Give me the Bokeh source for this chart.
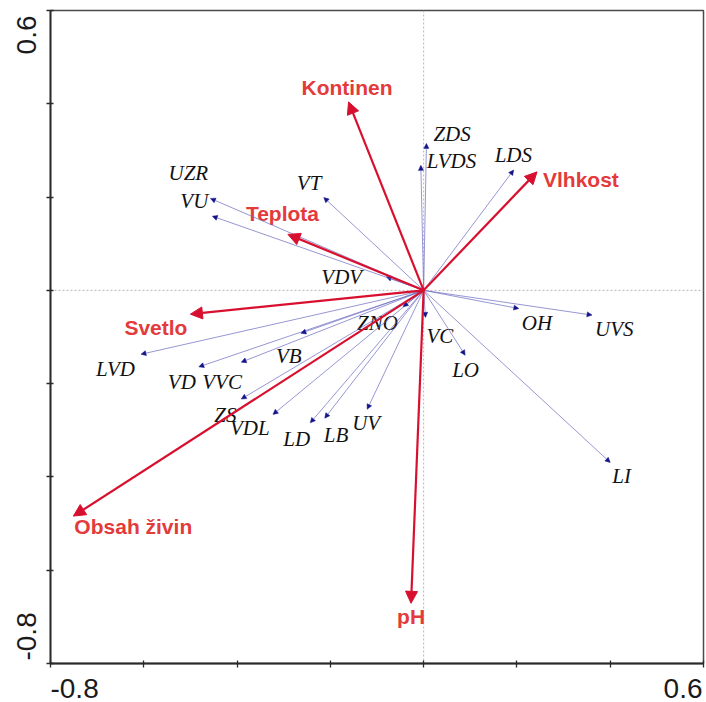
import math
from bokeh.plotting import figure
from bokeh.models import (Range1d, FixedTicker, Arrow, NormalHead, ColumnDataSource,
                          Span, LinearAxis, CustomJSTickFormatter)
from bokeh.core.properties import value
from bokeh.embed import file_html
from bokeh.resources import INLINE

# ---------------- data ----------------
axis_min, axis_max = -0.8, 0.6
tick_values = [-0.8, -0.6, -0.4, -0.2, 0.0, 0.2, 0.4, 0.6]
end_tick_values = [-0.8, 0.6]
end_tick_labels = ["-0.8", "0.6"]

env_names = ["Kontinen", "Vlhkost", "Teplota", "Svetlo", "Obsah živin", "pH"]
env_x = [-0.161, 0.243, -0.291, -0.500, -0.751, -0.027]
env_y = [0.404, 0.254, 0.120, -0.051, -0.484, -0.671]

species_names = ["ZDS", "LVDS", "LDS", "OH", "UVS", "VC", "LO", "LI", "UV", "LB", "LD",
                 "VDL", "ZS", "VVC", "VD", "VB", "LVD", "ZNO", "VDV", "VT", "UZR", "VU"]
species_x = [0.006, -0.006, 0.193, 0.204, 0.361, 0.004, 0.089, 0.400, -0.121, -0.212, -0.243,
             -0.323, -0.391, -0.391, -0.482, -0.263, -0.606, -0.044, -0.080, -0.214, -0.457, -0.453]
species_y = [0.315, 0.268, 0.258, -0.039, -0.053, -0.058, -0.139, -0.369, -0.255, -0.274, -0.284,
             -0.266, -0.233, -0.154, -0.164, -0.092, -0.137, -0.035, 0.029, 0.199, 0.197, 0.159]

# ---------------- label placement (screen px, from arrow tip) ----------------
env_label_dx = [-47, 6, -42, -66, 1, -14]
env_label_dy = [-14, 8, -21, 13, 10, 13]
species_label_dx = [7, 6, -19, 3, 3, 1, -13, 2, -15, -1, -27,
                    -43, -27, -39, -31, -25, -45, -46, -65, -27, -42, -32]
species_label_dy = [-9, -4, -15, 14, 14, 19, 15, 14, 14, 17, 16,
                    14, 16, 20, 15, 23, 15, 16, 0, -15, -25, -15]

RED_LINE = "#d8102f"
RED_TEXT = "#e33a3c"
BLUE_LINE = "#6a6ac0"
BLUE_HEAD = "#12128a"
AXIS_COL = "#2a2a2a"

FRAME = 653
px_per_unit = FRAME / (axis_max - axis_min)

p = figure(frame_width=FRAME, frame_height=FRAME,
           x_range=Range1d(axis_min, axis_max), y_range=Range1d(axis_min, axis_max),
           output_backend="svg", toolbar_location=None,
           min_border_left=50, min_border_right=3, min_border_top=10, min_border_bottom=39,
           background_fill_color="white", border_fill_color="white",
           outline_line_color="#4a4a4a", outline_line_width=1.5)
p.xgrid.visible = False
p.ygrid.visible = False

# main axes: ticks only
for ax in (p.xaxis[0], p.yaxis[0]):
    ax.ticker = FixedTicker(ticks=tick_values, minor_ticks=[])
    ax.formatter = CustomJSTickFormatter(code="return ''")
    ax.major_label_text_font_size = "0px"
    ax.major_label_standoff = 0
    ax.axis_line_color = AXIS_COL
    ax.axis_line_width = 1.8
    ax.major_tick_line_color = AXIS_COL
    ax.major_tick_line_width = 1.3
    ax.major_tick_in = 3
    ax.major_tick_out = 4
    ax.minor_tick_line_color = None

# end tick labels on label-only axes, placed so the text sits inside the axis span
text_w = {"-0.8": 48.2, "0.6": 38.9}   # text widths in px at 28px
x_lab_pos = [v + (text_w[t] / 2 if v == axis_min else -text_w[t] / 2 - 1) / px_per_unit
             for v, t in zip(end_tick_values, end_tick_labels)]
# rotated left-axis labels are anchored at the end of the text
y_lab_pos = [v + (text_w[t] + 3 if v == axis_min else -5) / px_per_unit
             for v, t in zip(end_tick_values, end_tick_labels)]
lab_fmt = CustomJSTickFormatter(args=dict(labels=end_tick_labels),
                                code="return tick < 0 ? labels[0] : labels[1];")

xlab = LinearAxis(ticker=FixedTicker(ticks=x_lab_pos, minor_ticks=[]), formatter=lab_fmt,
                  axis_line_color=None, major_tick_line_color=None, minor_tick_line_color=None,
                  major_label_text_font="Liberation Sans", major_label_text_font_size="28px",
                  major_label_text_color="#1a1a1a", major_label_standoff=5)
p.add_layout(xlab, "below")
ylab = LinearAxis(ticker=FixedTicker(ticks=y_lab_pos, minor_ticks=[]), formatter=lab_fmt,
                  axis_line_color=None, major_tick_line_color=None, minor_tick_line_color=None,
                  major_label_text_font="Liberation Sans", major_label_text_font_size="28px",
                  major_label_text_color="#1a1a1a", major_label_standoff=14,
                  major_label_orientation=math.pi / 2)
p.add_layout(ylab, "left")

# zero lines
p.add_layout(Span(location=0, dimension="width", line_color="#b5b5b5",
                  line_dash="2 2", line_width=1, level="underlay"))
p.add_layout(Span(location=0, dimension="height", line_color="#b5b5b5",
                  line_dash="2 2", line_width=1, level="underlay"))

# species arrows
ns = len(species_names)
sp_src = ColumnDataSource(dict(x0=[0.0] * ns, y0=[0.0] * ns, x1=species_x, y1=species_y,
                               name=species_names, dx=species_label_dx, dy=species_label_dy))
p.add_layout(Arrow(x_start="x0", y_start="y0", x_end="x1", y_end="y1", source=sp_src,
                   line_color=BLUE_LINE, line_width=0.7,
                   end=NormalHead(size=5, fill_color=BLUE_HEAD, line_color=BLUE_HEAD, line_width=0.5)))

# environmental arrows
ne = len(env_names)
env_src = ColumnDataSource(dict(x0=[0.0] * ne, y0=[0.0] * ne, x1=env_x, y1=env_y,
                                name=env_names, dx=env_label_dx, dy=env_label_dy))
p.add_layout(Arrow(x_start="x0", y_start="y0", x_end="x1", y_end="y1", source=env_src,
                   line_color=RED_LINE, line_width=2.2,
                   end=NormalHead(size=12, fill_color=RED_LINE, line_color=RED_LINE, line_width=1)))

# labels
p.text(x="x1", y="y1", text="name", x_offset="dx", y_offset="dy", source=sp_src,
       text_font=value("Liberation Serif"), text_font_style="italic", text_font_size="21px",
       text_align="left", text_baseline="alphabetic", text_color="#111111")
p.text(x="x1", y="y1", text="name", x_offset="dx", y_offset="dy", source=env_src,
       text_font=value("Liberation Sans"), text_font_style="bold", text_font_size="21px",
       text_align="left", text_baseline="alphabetic", text_color=RED_TEXT)

open("out.html", "w").write(file_html(p, INLINE))
